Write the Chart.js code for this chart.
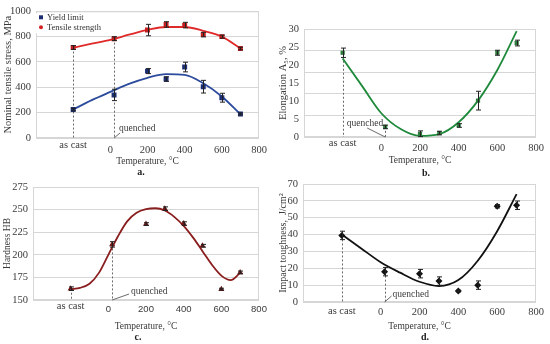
<!DOCTYPE html>
<html>
<head>
<meta charset="utf-8">
<script src="https://cdn.jsdelivr.net/npm/chart.js@4.4.1/dist/chart.umd.min.js"></script>
<style>
  body { margin: 0; background: #fff; }
  #wrap { position: relative; width: 550px; height: 344px; }
  #wrap canvas { position: absolute; }
  .cap { position: absolute; font: bold 10px "Liberation Serif", serif; color: #222; transform: translate(-50%, -50%); }
</style>
</head>
<body>
<div id="wrap">
  <canvas id="chartA" width="275" height="172" style="left:0;top:0"></canvas>
  <canvas id="chartB" width="275" height="172" style="left:275px;top:0"></canvas>
  <canvas id="chartC" width="275" height="172" style="left:0;top:172px"></canvas>
  <canvas id="chartD" width="275" height="172" style="left:275px;top:172px"></canvas>
  <div class="cap" style="left:141px;top:171px">a.</div>
  <div class="cap" style="left:426px;top:172px">b.</div>
  <div class="cap" style="left:138px;top:336px">c.</div>
  <div class="cap" style="left:425px;top:336px">d.</div>
</div>
<script>
// measured temperatures (-200 stands for "as cast", 20 for "quenched")
const temps = [-200, 20, 200, 300, 400, 500, 600, 700];
const yieldLimit = [225, 340, 528, 465, 560, 405, 318, 190];
const yieldErr = [10, 45, 20, 18, 38, 50, 35, 8];
const tensileStrength = [714, 784, 852, 896, 891, 816, 800, 706];
const tensileErr = [15, 15, 45, 22, 22, 18, 12, 10];
const elongation = [23.4, 2.8, 0.9, 1.1, 3.2, 10.1, 23.4, 26.1];
const elongationErr = [1.3, 0.5, 0.8, 0.5, 0.5, 2.6, 0.7, 0.8];
const hardness = [162.5, 211.5, 234, 251, 234.5, 210, 162, 180.5];
const hardnessErr = [2, 3, 1.5, 2, 2, 1.5, 1, 1.5];
const toughness = [39.5, 18, 16.8, 12.4, 6.5, 10, 56.8, 57.4];
const toughnessErr = [2.5, 2.5, 2.5, 2.5, 0.5, 2.5, 1, 2.5];

// trend curves
const fitTemps = [-200, -100, 0, 100, 200, 300, 400, 500, 600, 700];
const yieldFit = [225, 299, 364, 427, 475, 504, 498, 432, 328, 187];
const tensileFit = [712, 744, 775, 815, 853, 876, 876, 846, 800, 707];
const elongationFit = [21.8, 14.2, 6.6, 2.2, 0.3, 0.8, 4.1, 10.1, 18.6, 29.4];
const toughnessFit = [40, 31.8, 23.6, 17.4, 12, 9.5, 13, 24.5, 42, 64];
const hardnessTemps = [-200, -150, -100, -50, 0, 50, 100, 150, 200, 250, 300, 350, 400, 450, 500, 550, 600, 650, 700];
const hardnessFit = [162, 163.5, 168, 180, 200, 220, 237, 246.5, 250.5, 251.5, 249, 242, 232, 219, 204, 189, 177, 172, 180];

const serif = (size, weight) => ({ family: '"Liberation Serif", serif', size, weight: weight || 'normal' });
const sans = size => ({ family: '"Liberation Sans", Arial, sans-serif', size });
const textColor = '#3a3a3a';
const gridColor = '#d6d6d6';

const pts = (xs, ys) => xs.map((x, i) => ({ x, y: ys[i] }));

// borders, drop lines, error bars, labels, legend
const extras = {
  id: 'extras',
  beforeDatasetsDraw(chart, args, o) {
    const { ctx, chartArea: a, scales: { x, y } } = chart;
    ctx.save();
    ctx.strokeStyle = gridColor;
    ctx.lineWidth = 1;
    ctx.strokeRect(a.left + 0.5, a.top + 0.5, a.width - 1, a.height - 1);
    ctx.strokeStyle = '#6a6a6a';
    ctx.setLineDash([2, 2]);
    [0, 1].forEach(i => {
      const px = Math.round(x.getPixelForValue(temps[i])) + 0.5;
      ctx.beginPath();
      ctx.moveTo(px, y.getPixelForValue(o.dropFrom[i]));
      ctx.lineTo(px, a.bottom);
      ctx.stroke();
    });
    ctx.restore();
  },
  afterDatasetsDraw(chart, args, o) {
    const { ctx, chartArea: a, scales: { x, y } } = chart;
    ctx.save();
    ctx.strokeStyle = '#222';
    ctx.lineWidth = 1;
    o.errors.forEach(([vals, errs]) => {
      vals.forEach((v, i) => {
        const px = Math.round(x.getPixelForValue(temps[i])) + 0.5;
        const y1 = y.getPixelForValue(v - errs[i]);
        const y2 = y.getPixelForValue(v + errs[i]);
        ctx.beginPath();
        ctx.moveTo(px, y1); ctx.lineTo(px, y2);
        ctx.moveTo(px - 2.5, y1); ctx.lineTo(px + 2.5, y1);
        ctx.moveTo(px - 2.5, y2); ctx.lineTo(px + 2.5, y2);
        ctx.stroke();
      });
    });
    // "as cast" label under the first position
    ctx.fillStyle = textColor;
    ctx.font = '10.5px "Liberation Serif", serif';
    ctx.textAlign = 'center';
    ctx.textBaseline = 'middle';
    ctx.fillText('as cast', x.getPixelForValue(temps[0]), a.bottom + o.asCastDy);
    // "quenched" label with its leader line
    const q = o.quench;
    const qx = x.getPixelForValue(temps[1]);
    ctx.strokeStyle = '#6a6a6a';
    ctx.beginPath();
    ctx.moveTo(qx, a.bottom);
    ctx.lineTo(qx + q.lx, a.bottom + q.ly);
    ctx.stroke();
    ctx.font = '9.5px "Liberation Serif", serif';
    ctx.textAlign = q.align;
    ctx.fillText('quenched', qx + q.tx, a.bottom + q.ty);
    // legend
    if (o.legend) {
      const lx = a.left, ly = a.top + 2;
      ctx.fillStyle = '#fff';
      ctx.fillRect(lx, ly, 65, 20);
      ctx.textAlign = 'left';
      ctx.font = '8.5px "Liberation Serif", serif';
      o.legend.forEach((it, k) => {
        const cy = ly + 4 + k * 10;
        ctx.fillStyle = it.color;
        ctx.beginPath();
        if (it.shape === 'circle') ctx.arc(lx + 5, cy, 2, 0, Math.PI * 2);
        else ctx.rect(lx + 3, cy - 2, 4, 4);
        ctx.fill();
        ctx.fillStyle = '#333';
        ctx.fillText(it.text, lx + 11, cy);
      });
    }
    ctx.restore();
  }
};

function xAxis(tickFont, tickPad, titlePad, height) {
  return {
    type: 'linear', min: -400, max: 800,
    grid: { display: false, drawTicks: false }, border: { display: false },
    ticks: { stepSize: 200, padding: tickPad, color: textColor, font: tickFont, autoSkip: false, maxRotation: 0,
      callback: v => (v >= 0 ? v : '') },
    title: { display: true, text: 'Temperature, °C', color: textColor, font: serif(9.5), padding: { top: 0, bottom: titlePad } },
    afterFit: s => { s.height = height; }
  };
}

function yAxis(min, max, step, title, width, titleSize, showGrid, labelEvery) {
  return {
    min, max,
    grid: { display: showGrid, color: gridColor, drawTicks: false },
    border: { display: false },
    ticks: { stepSize: step, padding: 5, color: textColor, font: serif(10.5),
      callback: v => (labelEvery && Math.round(v) % labelEvery !== 0 ? '' : v) },
    title: { display: true, text: title, color: textColor, font: serif(titleSize), padding: { top: 2, bottom: 0 } },
    afterFit: s => { s.width = width; }
  };
}

function curve(xs, ys, color) {
  return { data: pts(xs, ys), showLine: true, borderColor: color, borderWidth: 1.8, pointRadius: 0,
    cubicInterpolationMode: 'monotone', fill: false, order: 2 };
}
function marks(ys, color, style, r) {
  return { data: pts(temps, ys), showLine: false, pointStyle: style, pointRadius: r,
    backgroundColor: color, borderColor: color, borderWidth: 0, order: 1 };
}

function build(id, datasets, scales, padding, extraOpts) {
  new Chart(document.getElementById(id), {
    type: 'scatter',
    data: { datasets },
    options: {
      responsive: false, animation: false, devicePixelRatio: 1,
      layout: { padding },
      plugins: { legend: { display: false }, tooltip: { enabled: false }, extras: extraOpts },
      scales
    },
    plugins: [extras]
  });
}

// a. tensile properties
build('chartA', [
  curve(fitTemps, tensileFit, '#e02a2a'),
  curve(fitTemps, yieldFit, '#2c4b9c'),
  marks(tensileStrength, '#c41f1f', 'rect', 3.5),
  marks(yieldLimit, '#1c2f75', 'rect', 3.5)
], {
  x: xAxis(serif(10.5), 6, 5, 34),
  y: yAxis(0, 1000, 100, 'Nominal tensile stress, MPa', 36, 10.5, true, 200)
}, { top: 10, right: 16, bottom: 0, left: 0 }, {
  dropFrom: tensileStrength,
  errors: [[tensileStrength, tensileErr], [yieldLimit, yieldErr]],
  asCastDy: 7,
  quench: { lx: 6, ly: -5, tx: 5, ty: -9.5, align: 'left' },
  legend: [
    { text: 'Yield limit', color: '#1c2f75', shape: 'rect' },
    { text: 'Tensile strength', color: '#d42020', shape: 'circle' }
  ]
});

// b. elongation
build('chartB', [
  curve(fitTemps, elongationFit, '#1f8a3b'),
  marks(elongation, '#2e7d3e', 'rect', 3)
], {
  x: xAxis(serif(10.5), 5, 6, 35),
  y: yAxis(0, 30, 5, 'Elongation A₅, %', 29, 10.5, false, 0),
  y2: {
    position: 'right', min: 0, max: 30,
    grid: { color: gridColor, drawTicks: false }, border: { display: false },
    ticks: { display: false, stepSize: 6 },
    afterFit: s => { s.width = 0; }
  }
}, { top: 29, right: 14, bottom: 0, left: 0 }, {
  dropFrom: elongation,
  errors: [[elongation, elongationErr]],
  asCastDy: 6,
  quench: { lx: -18, ly: -9, tx: -2, ty: -14, align: 'right' }
});

// c. hardness
build('chartC', [
  curve(hardnessTemps, hardnessFit, '#8a1e1e'),
  marks(hardness, '#6e1616', 'triangle', 3.5)
], {
  x: xAxis(sans(9.5), 4, 12, 44),
  y: yAxis(150, 275, 25, 'Hardness HB', 33, 9.5, true, 0)
}, { top: 15, right: 16, bottom: 0, left: 0 }, {
  dropFrom: hardness,
  errors: [[hardness, hardnessErr]],
  asCastDy: 6,
  quench: { lx: 17, ly: -6, tx: 19, ty: -9, align: 'left' }
});

// d. impact toughness
build('chartD', [
  curve(fitTemps, toughnessFit, '#111111'),
  marks(toughness, '#111111', 'rectRot', 3.5)
], {
  x: xAxis(serif(10.5), 4, 12, 42),
  y: yAxis(0, 70, 10, 'Impact toughness,  J/cm²', 28, 10, true, 0)
}, { top: 12, right: 14, bottom: 0, left: 0 }, {
  dropFrom: toughness,
  errors: [[toughness, toughnessErr]],
  asCastDy: 9.5,
  quench: { lx: 7, ly: -6, tx: 8, ty: -8, align: 'left' }
});
</script>
</body>
</html>
